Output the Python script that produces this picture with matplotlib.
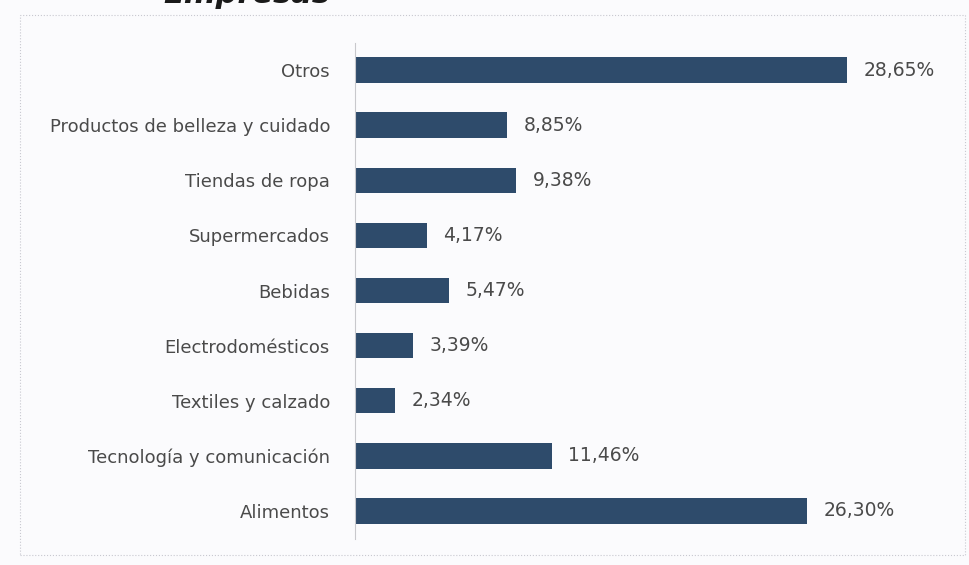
import matplotlib
matplotlib.use("Agg")
import matplotlib.pyplot as plt
from matplotlib.patches import Rectangle

categories = ["Alimentos", "Tecnología y comunicación", "Textiles y calzado",
              "Electrodomésticos", "Bebidas", "Supermercados", "Tiendas de ropa",
              "Productos de belleza y cuidado", "Otros"]
values = [26.30, 11.46, 2.34, 3.39, 5.47, 4.17, 9.38, 8.85, 28.65]
value_labels = ["26,30%", "11,46%", "2,34%", "3,39%", "5,47%", "4,17%", "9,38%", "8,85%", "28,65%"]
title_fragment = "Empresas"

W, H = 969, 565
fig = plt.figure(figsize=(W / 100, H / 100), dpi=100)
fig.patch.set_facecolor("#fbfbfd")

ax = fig.add_axes([355 / W, 1 - 538.5 / H, 601 / W, 496 / H])
ax.set_facecolor("none")
bar_color = "#2e4b6b"
text_color = "#4a4a4a"
ypos = list(range(len(categories)))
ax.barh(ypos, values, height=0.46, color=bar_color)
ax.set_xlim(0, 35)
ax.set_ylim(-0.5, len(categories) - 0.5)
ax.set_yticks(ypos)
ax.set_yticklabels(categories, fontsize=13, color=text_color, family="DejaVu Sans")
ax.tick_params(axis="y", length=0, pad=18)
ax.set_xticks([])
for s in ["top", "right", "bottom"]:
    ax.spines[s].set_visible(False)
ax.spines["left"].set_color("#c8c8cc")
ax.spines["left"].set_linewidth(0.8)

for y, v, lab in zip(ypos, values, value_labels):
    ax.annotate(lab, xy=(v, y), xytext=(12, 0), textcoords="offset points",
                va="center", ha="left", fontsize=13.5, color=text_color,
                family="DejaVu Sans")

# faint dotted chart-area border
fig.patches.append(Rectangle((20 / W, 1 - 555 / H), 945 / W, 540 / H,
                             transform=fig.transFigure, fill=False,
                             edgecolor="#c8c8d0", linewidth=0.8, linestyle=":"))

# title, cut off at the top edge as in the reference
fig.text(330 / W, 1 - 3 / H, title_fragment, ha="right", va="baseline",
         fontsize=22, fontweight="bold", fontstyle="italic", color="#1a1a1a")

fig.savefig("out.png", dpi=100, facecolor=fig.get_facecolor())
